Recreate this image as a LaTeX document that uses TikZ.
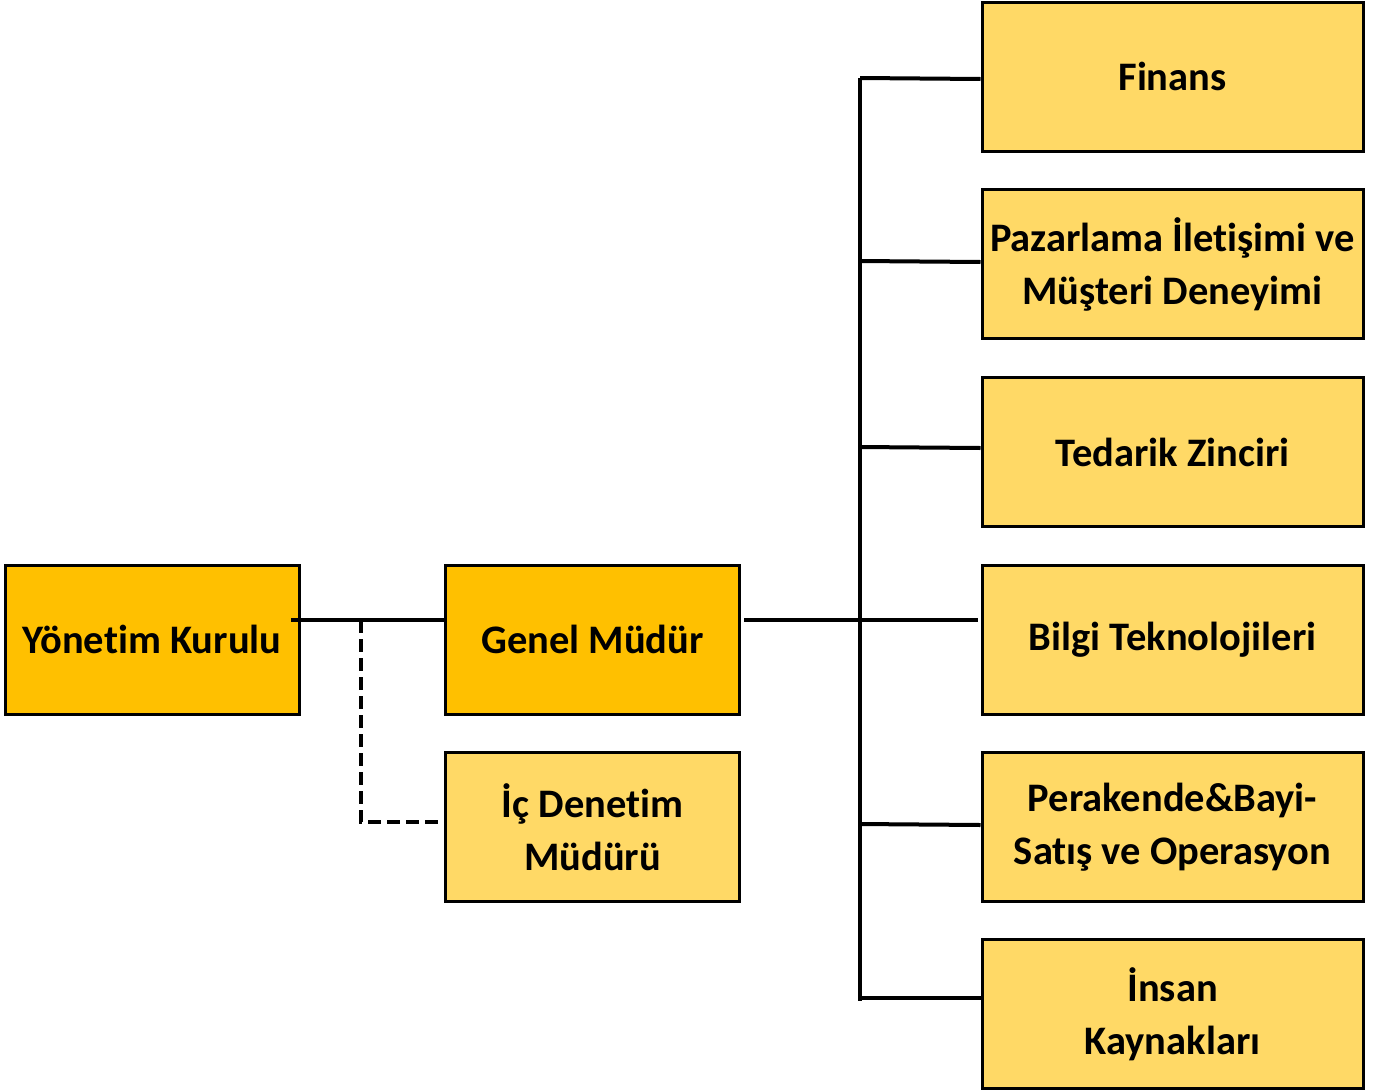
\documentclass[tikz,border=0pt]{standalone}
\usepackage{fontspec}
\setmainfont[RawFeature={-liga;-clig;-dlig;-calt}]{Carlito}
\begin{document}
\begin{tikzpicture}[x=1pt,y=-1pt,
  box/.style={draw=black,line width=3pt,minimum width=294pt,minimum height=149pt,align=center,inner sep=0pt,font=\bfseries\fontsize{40.5}{53}\selectfont},
  dark/.style={box,fill=dark1},
  light/.style={box,fill=light1},
  wide/.style={minimum width=381pt},
  conn/.style={line width=4pt},
  dconn/.style={line width=4pt,dash pattern=on 13pt off 6pt}]
\definecolor{dark1}{HTML}{FFC000}
\definecolor{light1}{HTML}{FFD966}
\useasboundingbox (0,0) rectangle (1379,1090);
\node[dark] (yk) at (152,639.5) {Yönetim Kurulu};
\node[dark] (gm) at (592.5,639.5) {Genel Müdür};
\node[light] (id) at (592.5,827) {İç Denetim\\Müdürü};
\node[light,wide] (fin) at (1172.5,76.5) {Finans};
\node[light,wide] (paz) at (1172.5,264) {Pazarlama İletişimi ve\\Müşteri Deneyimi};
\node[light,wide] (ted) at (1172.5,452) {Tedarik Zinciri};
\node[light,wide] (bt) at (1172.5,639.5) {Bilgi Teknolojileri};
\node[light,wide] (per) at (1172.5,827) {Perakende\&Bayi-\\Satış ve Operasyon};
\node[light,wide] (ik) at (1172.5,1014) {İnsan\\Kaynakları};
\coordinate (vt) at (860,78);
\coordinate (vb) at (860,1001);
\coordinate (ykr) at (291,620);
\coordinate (gmr) at (744,620);
\coordinate (d1) at (361,620);
\coordinate (d2) at (361,822);
\coordinate (d3) at (440,822);
\draw[conn] (ykr) -- (gm.west |- ykr);
\draw[conn] (gmr) -- (978,620);
\draw[conn] (vt) -- (vb);
\draw[conn] (vt) -- (fin.west |- 0,79);
\draw[conn] (860,261) -- (paz.west |- 0,262);
\draw[conn] (860,447) -- (ted.west |- 0,448);
\draw[conn] (860,824) -- (per.west |- 0,825);
\draw[conn] (858,998) -- (ik.west |- 0,998);
\draw[dconn] (d1) -- (d2) -- (d3);
\end{tikzpicture}
\end{document}
